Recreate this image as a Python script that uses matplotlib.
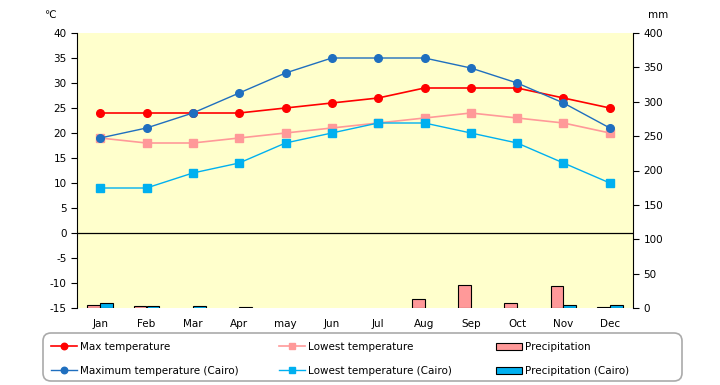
import matplotlib.pyplot as plt
import numpy as np
from matplotlib.patches import FancyBboxPatch
from matplotlib.transforms import IdentityTransform

plt.rcParams['axes.unicode_minus'] = False

months = ['Jan', 'Feb', 'Mar', 'Apr', 'may', 'Jun', 'Jul', 'Aug', 'Sep', 'Oct', 'Nov', 'Dec']

max_temp = [24, 24, 24, 24, 25, 26, 27, 29, 29, 29, 27, 25]
low_temp = [19, 18, 18, 19, 20, 21, 22, 23, 24, 23, 22, 20]
cairo_max = [19, 21, 24, 28, 32, 35, 35, 35, 33, 30, 26, 21]
cairo_low = [9, 9, 12, 14, 18, 20, 22, 22, 20, 18, 14, 10]

precip = [4, 3, 0, 0, 0, 0, 0, 13, 33, 7, 32, 1]
cairo_precip = [7, 3, 3, 1, 0, 0, 0, 0, 0, 0, 4, 5]

x = np.arange(len(months))
fs = 7.5

fig = plt.figure(figsize=(7.2, 3.85), dpi=100)
ax = fig.add_axes([77/720, 1 - 308/385, 556/720, 275/385])
ax2 = ax.twinx()

ax.set_zorder(ax2.get_zorder() + 1)
ax.patch.set_visible(False)
ax2.patch.set_visible(True)
ax2.patch.set_facecolor('#FFFFCC')

# bars on the mm axis (skip empty months so no stray outlines)
w = 0.28
p = np.array(precip, dtype=float)
cp = np.array(cairo_precip, dtype=float)
b1 = ax2.bar(x - w/2, np.where(p > 0, p, np.nan), w, color='#FF9999', edgecolor='black', linewidth=0.8)
b2 = ax2.bar(x + w/2, np.where(cp > 0, cp, np.nan), w, color='#00B0F0', edgecolor='black', linewidth=0.8)
ax2.set_ylim(0, 400)
ax2.set_yticks(np.arange(0, 401, 50))

ax.axhline(0, color='black', linewidth=0.9)
l1, = ax.plot(x, max_temp, color='#FF0000', marker='o', markersize=5.5, linewidth=1.2)
l2, = ax.plot(x, low_temp, color='#FF9999', marker='s', markersize=5.5, linewidth=1.2)
l3, = ax.plot(x, cairo_max, color='#1F6FBF', marker='o', markersize=5.5, linewidth=1.0)
l4, = ax.plot(x, cairo_low, color='#00B0F0', marker='s', markersize=5.5, linewidth=1.0)

ax.set_xlim(-0.5, 11.5)
ax.set_ylim(-15, 40)
ax.set_yticks(np.arange(-15, 41, 5))
ax.set_xticks(x)
ax.set_xticklabels(months)

for a in (ax, ax2):
    a.spines['top'].set_visible(False)
    a.spines['bottom'].set_visible(False)
    a.tick_params(labelsize=fs, length=4)
ax.tick_params(axis='x', length=0, pad=8)
ax2.spines['left'].set_visible(False)
ax.spines['right'].set_visible(False)

fig.text(50/720, 1 - 15/385, '℃', fontsize=fs, ha='center', va='center')
fig.text(658/720, 1 - 15/385, 'mm', fontsize=fs, ha='center', va='center')

# legend frame
frame = FancyBboxPatch((43, 4), 639, 48, boxstyle='round,pad=0,rounding_size=8',
                       transform=IdentityTransform(), facecolor='white',
                       edgecolor='#AAAAAA', linewidth=1.2)
fig.add_artist(frame)

groups = [([l1, l3], ['Max temperature', 'Maximum temperature (Cairo)'], 51),
          ([l2, l4], ['Lowest temperature', 'Lowest temperature (Cairo)'], 279),
          ([b1, b2], ['Precipitation', 'Precipitation (Cairo)'], 496)]
for hs, ls, xpos in groups:
    lg = fig.legend(hs, ls, loc='upper left', bbox_to_anchor=(xpos/720, 1 - 342/385),
                    frameon=False, fontsize=fs, handlelength=2.5, handletextpad=0.25,
                    labelspacing=1.35, borderaxespad=0, borderpad=0, markerscale=0.85)
    lg.set_zorder(5)

fig.savefig('out.png', dpi=100)
